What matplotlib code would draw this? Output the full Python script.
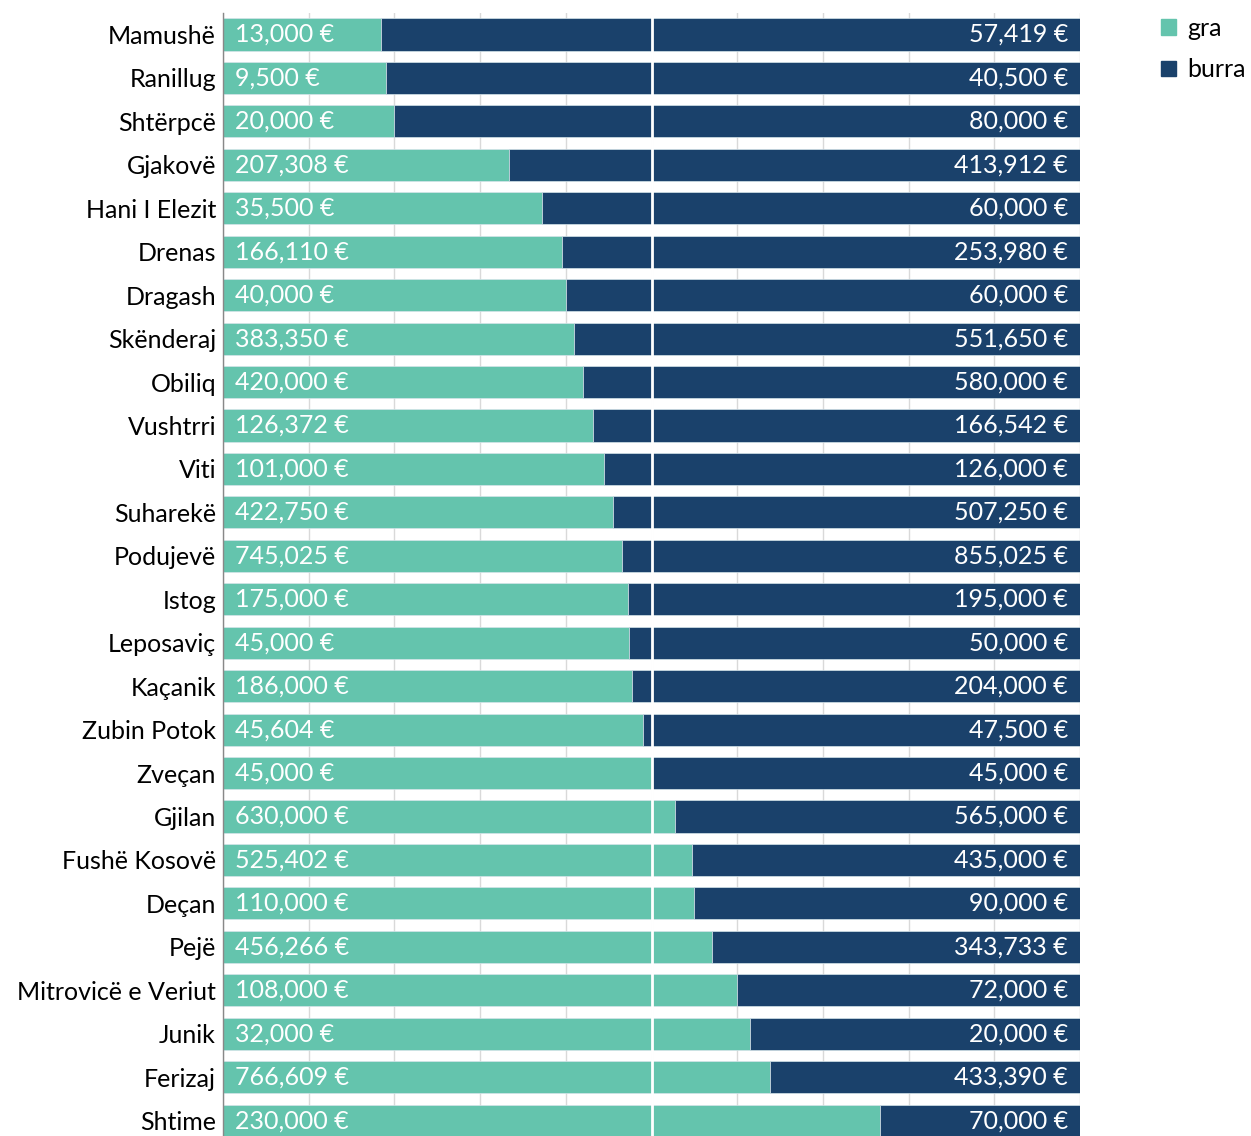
import matplotlib
matplotlib.use('Agg')

import matplotlib.pyplot as plt
import numpy as np
from matplotlib.patches import Patch

komunat = ["Mamushë", "Ranillug", "Shtërpcë", "Gjakovë", "Hani I Elezit", "Drenas",
           "Dragash", "Skënderaj", "Obiliq", "Vushtrri", "Viti", "Suharekë",
           "Podujevë", "Istog", "Leposaviç", "Kaçanik", "Zubin Potok", "Zveçan",
           "Gjilan", "Fushë Kosovë", "Deçan", "Pejë", "Mitrovicë e Veriut",
           "Junik", "Ferizaj", "Shtime"]
gra = [13000, 9500, 20000, 207308, 35500, 166110, 40000, 383350, 420000, 126372,
       101000, 422750, 745025, 175000, 45000, 186000, 45604, 45000, 630000,
       525402, 110000, 456266, 108000, 32000, 766609, 230000]
burra = [57419, 40500, 80000, 413912, 60000, 253980, 60000, 551650, 580000, 166542,
         126000, 507250, 855025, 195000, 50000, 204000, 47500, 45000, 565000,
         435000, 90000, 343733, 72000, 20000, 433390, 70000]

TEAL = "#64c4ad"
NAVY = "#1a416b"

plt.rcParams['font.family'] = ['Lato', 'DejaVu Sans']

gra = np.array(gra, dtype=float)
burra = np.array(burra, dtype=float)
total = gra + burra
p_gra = gra / total * 100
p_burra = burra / total * 100
y = np.arange(len(komunat))

fig = plt.figure(figsize=(12.51, 11.36), dpi=100)
ax = fig.add_axes([0.1783, -0.0056, 0.685, 0.9944])

ax.barh(y, p_gra, height=0.74, color=TEAL, edgecolor="#d5e4ea", linewidth=0.5, zorder=2)
ax.barh(y, p_burra, left=p_gra, height=0.74, color=NAVY, edgecolor="#d5e4ea",
        linewidth=0.5, zorder=2)

for i in range(len(komunat)):
    ax.text(1.4, y[i], f"{int(gra[i]):,} €", color="white", fontsize=18,
            va="center", ha="left", zorder=4)
    ax.text(98.6, y[i], f"{int(burra[i]):,} €", color="white", fontsize=18,
            va="center", ha="right", zorder=4)

ax.axvline(50, color="white", linewidth=2, zorder=3)

ax.set_xlim(0, 100)
ax.set_ylim(len(komunat) - 0.5, -0.5)
ax.set_xticks(np.arange(0, 101, 10))
ax.set_xticklabels([])
ax.grid(axis="x", color="#d9d9d9", linewidth=1, zorder=0)
ax.set_axisbelow(True)
ax.set_yticks(y)
ax.set_yticklabels(komunat, fontsize=18)
ax.tick_params(axis="y", length=0, pad=5)
ax.tick_params(axis="x", length=0)
for s in ["top", "right", "bottom"]:
    ax.spines[s].set_visible(False)
ax.spines["left"].set_color("#888888")
ax.spines["left"].set_linewidth(1)

handles = [Patch(color=TEAL, label="gra"), Patch(color=NAVY, label="burra")]
fig.legend(handles=handles, loc="upper left", bbox_to_anchor=(0.912, 1.003),
           frameon=False, fontsize=18, handlelength=0.6, handleheight=0.6,
           handletextpad=0.45, labelspacing=0.75, borderpad=0.3)

plt.savefig("out.png", dpi=100)
plt.close()
